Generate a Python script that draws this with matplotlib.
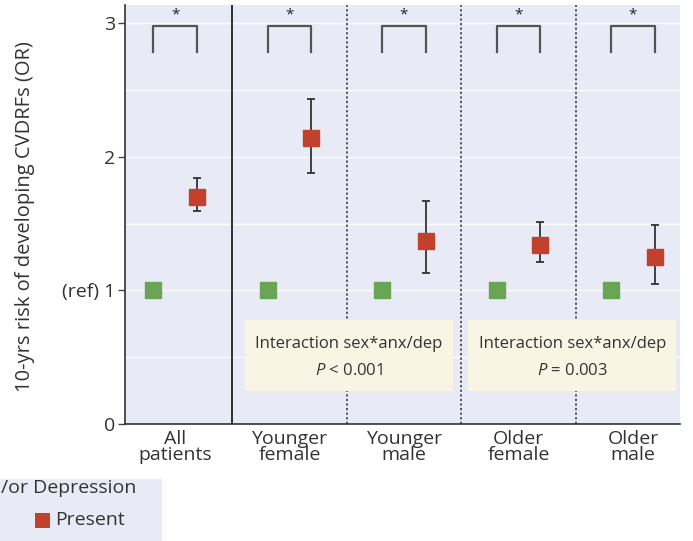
import matplotlib.pyplot as plt
from matplotlib.patches import Rectangle

# ----------------------------------------------------
# Data
# ----------------------------------------------------
groups = ["All\npatients", "Younger\nfemale", "Younger\nmale", "Older\nfemale", "Older\nmale"]
or_absent = [1.0, 1.0, 1.0, 1.0, 1.0]
or_present = [1.70, 2.14, 1.37, 1.34, 1.25]
ci_low = [1.59, 1.88, 1.13, 1.21, 1.05]
ci_high = [1.84, 2.43, 1.67, 1.51, 1.49]
interaction_p = ["< 0.001", "= 0.003"]
interaction_span = [(0.61, 2.43), (2.56, 4.38)]

plt.rcParams['font.family'] = ['Open Sans', 'DejaVu Sans']
plt.rcParams['mathtext.fontset'] = 'custom'
plt.rcParams['mathtext.it'] = 'Open Sans:italic'
plt.rcParams['mathtext.rm'] = 'Open Sans'

green = '#6aa556'
red = '#c3412c'
bg = '#e8ebf6'
txt = '#333333'
dx = 0.19

fig = plt.figure(figsize=(6.93, 5.41), dpi=100)
ax = fig.add_axes([0.180, 0.216, 0.801, 0.775])
ax.set_facecolor(bg)

x = list(range(len(groups)))
xa = [i - dx for i in x]
xp = [i + dx for i in x]

# grid every 0.5
for g in [0.5, 1.0, 1.5, 2.0, 2.5, 3.0]:
    ax.axhline(g, color='white', lw=1.0, alpha=0.8, zorder=0)

# group separators
ax.axvline(0.5, color='#222222', lw=1.3, zorder=1)
for s in [1.5, 2.5, 3.5]:
    ax.axvline(s, color='#333333', lw=1.1, ls=(0, (1.5, 1.5)), zorder=1)

# interaction boxes
for (x0, x1), p in zip(interaction_span, interaction_p):
    ax.add_patch(Rectangle((x0, 0.25), x1 - x0, 0.53, facecolor='#f8f5e4',
                           edgecolor='none', zorder=2))
    xm = (x0 + x1) / 2
    ax.text(xm, 0.60, "Interaction sex*anx/dep", ha='center', va='center',
            fontsize=12, color=txt, zorder=3)
    ax.text(xm, 0.40, "$P$ " + p, ha='center', va='center',
            fontsize=12, color=txt, zorder=3)

# points
ax.plot(xa, or_absent, 's', color=green, ms=11, zorder=4, lw=0)
yerr = [[v - l for v, l in zip(or_present, ci_low)],
        [h - v for v, h in zip(or_present, ci_high)]]
ax.errorbar(xp, or_present, yerr=yerr, fmt='none', ecolor='#333333',
            elinewidth=1.3, capsize=3, capthick=1.3, zorder=4)
ax.plot(xp, or_present, 's', color=red, ms=11, zorder=5, lw=0)

# significance brackets
for a, p in zip(xa, xp):
    ax.plot([a, a, p, p], [2.78, 2.98, 2.98, 2.78], color='#555555', lw=1.6, zorder=3)
    ax.text((a + p) / 2, 3.06, "*", ha='center', va='center', fontsize=11,
            color='#222222')

ax.set_xlim(-0.44, 4.41)
ax.set_ylim(0, 3.135)
ax.set_xticks(x)
ax.set_xticklabels(groups, fontsize=14, color=txt, linespacing=0.9)
ax.tick_params(axis='x', length=0, pad=4)
ax.set_yticks([0, 1, 2, 3])
ax.set_yticklabels(["0", "(ref) 1", "2", "3"], fontsize=14, color=txt)
ax.tick_params(axis='y', length=5, width=1, color='#444444', pad=2)
ax.set_ylabel("10-yrs risk of developing CVDRFs (OR)", fontsize=14.5, color=txt)
ax.yaxis.set_label_coords(-0.162, 0.494)
for side in ['top', 'right']:
    ax.spines[side].set_visible(False)
for side in ['left', 'bottom']:
    ax.spines[side].set_color('#333333')
    ax.spines[side].set_linewidth(1.2)

# legend box (cropped at the left like the reference)
fig.patches.append(Rectangle((0, 0), 162 / 693, 62 / 541, transform=fig.transFigure,
                             facecolor=bg, edgecolor='none'))
fig.text(1 / 693, 1 - 488 / 541, "/or Depression", ha='left',
         va='center', fontsize=14, color=txt)
fig.patches.append(Rectangle((35 / 693, 1 - 528 / 541), 15 / 693, 15 / 541,
                             transform=fig.transFigure, facecolor=red,
                             edgecolor='none'))
fig.text(55 / 693, 1 - 520 / 541, "Present", ha='left', va='center',
         fontsize=14, color=txt)

fig.savefig("out.png", dpi=100)
